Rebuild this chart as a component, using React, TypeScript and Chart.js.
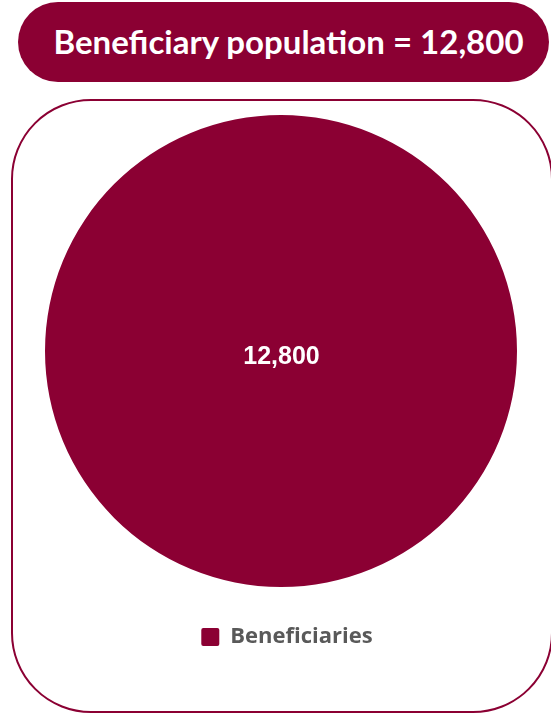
import React, { useEffect, useRef } from "react";
import { Chart, registerables } from "chart.js";

Chart.register(...registerables);

const TITLE = "Beneficiary population = 12,800";
const categories = ["Beneficiaries"];
const values = [12800];
const valueLabels = ["12,800"];
const MAROON = "#8B0033";

const centerLabelPlugin = {
  id: "centerLabel",
  afterDatasetsDraw(chart: any) {
    const meta = chart.getDatasetMeta(0);
    const ctx = chart.ctx;
    ctx.save();
    ctx.fillStyle = "#ffffff";
    ctx.font = "bold 25px 'Liberation Sans', Arial, sans-serif";
    ctx.textAlign = "center";
    ctx.textBaseline = "middle";
    meta.data.forEach((arc: any, i: number) => {
      ctx.fillText(valueLabels[i], arc.x + 0.5, arc.y + 6);
    });
    ctx.restore();
  },
};

const legendShiftPlugin = {
  id: "legendShift",
  afterLayout(chart: any) {
    if (chart.legend) {
      chart.legend.left += 6;
      chart.legend.right += 6;
    }
  },
};

export default function App() {
  const canvasRef = useRef<HTMLCanvasElement | null>(null);

  useEffect(() => {
    if (!canvasRef.current) return;
    const chart = new Chart(canvasRef.current, {
      type: "pie",
      data: {
        labels: categories,
        datasets: [
          {
            data: values,
            backgroundColor: [MAROON],
            borderWidth: 0,
          },
        ],
      },
      options: {
        animation: false,
        responsive: false,
        maintainAspectRatio: false,
        layout: { padding: { top: 15, left: 0, right: 2, bottom: 42 } },
        plugins: {
          tooltip: { enabled: false },
          legend: {
            position: "bottom",
            labels: {
              padding: 39,
              boxWidth: 18,
              boxHeight: 18,
              useBorderRadius: true,
              borderRadius: 2,
              color: "#595959",
              font: { family: "'Open Sans', sans-serif", weight: "bold", size: 22 },
            },
          },
        },
      },
      plugins: [centerLabelPlugin, legendShiftPlugin],
    });
    return () => chart.destroy();
  }, []);

  return (
    <div
      style={{
        position: "absolute",
        left: 0,
        top: 0,
        width: 551,
        height: 721,
        overflow: "hidden",
        background: "#ffffff",
      }}
    >
      <div
        style={{
          position: "absolute",
          left: 18,
          top: 2,
          width: 531,
          height: 80,
          borderRadius: 40,
          background: MAROON,
          color: "#ffffff",
          display: "flex",
          alignItems: "center",
          justifyContent: "center",
          fontFamily: "Lato, sans-serif",
          fontWeight: 700,
          fontSize: 33,
          paddingLeft: 10,
          paddingBottom: 3,
          boxSizing: "border-box",
        }}
      >
        {TITLE}
      </div>
      <div
        style={{
          position: "absolute",
          left: 11,
          top: 99,
          width: 542,
          height: 614,
          border: `2.5px solid ${MAROON}`,
          borderRadius: 80,
          boxSizing: "border-box",
        }}
      />
      <canvas
        ref={canvasRef}
        width={540}
        height={600}
        style={{ position: "absolute", left: 12, top: 100, width: 540, height: 600 }}
      />
    </div>
  );
}
